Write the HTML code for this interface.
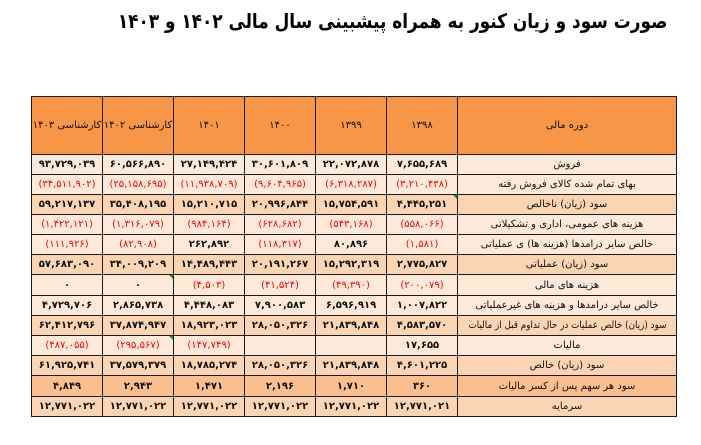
<!DOCTYPE html>
<html><head><meta charset="utf-8">
<style>
html,body{margin:0;padding:0;background:#fff;}
body{width:701px;height:445px;position:relative;overflow:hidden;font-family:"Liberation Sans","DejaVu Sans",sans-serif;}
.title{position:absolute;right:34px;top:9px;font-size:20px;font-weight:bold;color:#000;direction:rtl;white-space:nowrap;font-family:"DejaVu Sans","Liberation Sans",sans-serif;transform:scaleX(0.845);transform-origin:right center;}
.row{position:absolute;left:31px;width:646px;box-sizing:border-box;border-top:1px solid #1a1a1a;border-right:1px solid #1a1a1a;display:flex;direction:rtl;}
.row.last{border-bottom:1px solid #1a1a1a;}
.c{box-sizing:border-box;border-left:1px solid #1a1a1a;width:71px;height:100%;display:flex;align-items:center;justify-content:center;font-size:10px;font-weight:bold;color:#111;white-space:nowrap;font-family:"DejaVu Sans","Liberation Sans",sans-serif;position:relative;}
.c.l{width:219px;font-weight:normal;font-size:10px;}
.h .c{font-weight:normal;font-size:10px;}
.r{color:#ff0000;font-weight:normal;}
.h{background:#F79646;}
.a{background:#FDE9D9;}
.b{background:#FBD4B4;}
.e{background:#FABF8F;}
.g{position:absolute;top:0;right:0;width:0;height:0;border-top:4px solid #1f8f1f;border-left:4px solid transparent;}
.sq{display:inline-block;transform:scaleX(0.88);}
</style></head><body>
<div class="title">صورت سود و زیان کنور به همراه پیشبینی سال مالی ۱۴۰۲ و ۱۴۰۳</div>

<div class="row h" style="top:96px;height:58px;">
<div class="c l">دوره مالی</div><div class="c">۱۳۹۸</div><div class="c">۱۳۹۹</div><div class="c">۱۴۰۰</div><div class="c">۱۴۰۱</div><div class="c">کارشناسی ۱۴۰۲</div><div class="c">کارشناسی ۱۴۰۳</div>
</div>

<div class="row a" style="top:154px;height:20px;">
<div class="c l">فروش</div><div class="c">۷,۶۵۵,۶۸۹</div><div class="c">۲۲,۰۷۲,۸۷۸</div><div class="c">۳۰,۶۰۱,۸۰۹</div><div class="c">۲۷,۱۴۹,۴۲۴</div><div class="c">۶۰,۵۶۶,۸۹۰</div><div class="c">۹۳,۷۲۹,۰۳۹</div>
</div>

<div class="row a" style="top:174px;height:20px;">
<div class="c l">بهای تمام شده کالای فروش رفته</div><div class="c r">(۳,۲۱۰,۴۳۸)</div><div class="c r">(۶,۳۱۸,۲۸۷)</div><div class="c r">(۹,۶۰۴,۹۶۵)</div><div class="c r">(۱۱,۹۳۸,۷۰۹)</div><div class="c r">(۲۵,۱۵۸,۶۹۵)</div><div class="c r">(۳۴,۵۱۱,۹۰۲)</div>
</div>

<div class="row b" style="top:194px;height:20px;">
<div class="c l">سود (زیان) ناخالص</div><div class="c">۴,۴۴۵,۲۵۱<span class="g"></span></div><div class="c">۱۵,۷۵۴,۵۹۱</div><div class="c">۲۰,۹۹۶,۸۴۴</div><div class="c">۱۵,۲۱۰,۷۱۵</div><div class="c">۳۵,۴۰۸,۱۹۵</div><div class="c">۵۹,۲۱۷,۱۳۷</div>
</div>

<div class="row a" style="top:214px;height:20px;">
<div class="c l">هزینه های عمومی، اداری و تشکیلاتی</div><div class="c r">(۵۵۸,۰۶۶)</div><div class="c r">(۵۴۳,۱۶۸)</div><div class="c r">(۶۲۸,۶۸۲)</div><div class="c r">(۹۸۴,۱۶۴)</div><div class="c r">(۱,۳۱۶,۰۷۹)</div><div class="c r">(۱,۴۲۲,۱۲۱)</div>
</div>

<div class="row a" style="top:234px;height:20px;">
<div class="c l">خالص سایر درامدها (هزینه ها) ی عملیاتی</div><div class="c r">(۱,۵۸۱)</div><div class="c">۸۰,۸۹۶</div><div class="c r">(۱۱۸,۳۱۷)</div><div class="c">۲۶۲,۸۹۲</div><div class="c r">(۸۲,۹۰۸)</div><div class="c r">(۱۱۱,۹۲۶)</div>
</div>

<div class="row b" style="top:254px;height:20px;">
<div class="c l">سود (زیان) عملیاتی</div><div class="c">۲,۷۷۵,۸۲۷</div><div class="c">۱۵,۲۹۲,۳۱۹</div><div class="c">۲۰,۱۹۱,۲۶۷</div><div class="c">۱۴,۴۸۹,۴۴۳</div><div class="c">۳۴,۰۰۹,۲۰۹</div><div class="c">۵۷,۶۸۳,۰۹۰</div>
</div>

<div class="row a" style="top:274px;height:21px;">
<div class="c l">هزینه های مالی</div><div class="c r">(۲۰۰,۰۷۹)</div><div class="c r">(۴۹,۳۹۰)</div><div class="c r">(۴۱,۵۲۴)</div><div class="c r">(۴,۵۰۳)</div><div class="c">۰<span class="g"></span></div><div class="c">۰</div>
</div>

<div class="row a" style="top:295px;height:20px;">
<div class="c l">خالص سایر درامدها و هزینه های غیرعملیاتی</div><div class="c">۱,۰۰۷,۸۲۲</div><div class="c">۶,۵۹۶,۹۱۹</div><div class="c">۷,۹۰۰,۵۸۳</div><div class="c">۴,۴۴۸,۰۸۳</div><div class="c">۲,۸۶۵,۷۳۸</div><div class="c">۴,۷۲۹,۷۰۶</div>
</div>

<div class="row b" style="top:315px;height:20px;">
<div class="c l"><span class="sq">سود (زیان) خالص عملیات در حال تداوم قبل از مالیات</span></div><div class="c">۴,۵۸۳,۵۷۰</div><div class="c">۲۱,۸۳۹,۸۴۸</div><div class="c">۲۸,۰۵۰,۳۲۶</div><div class="c">۱۸,۹۲۳,۰۲۳</div><div class="c">۳۷,۸۷۴,۹۴۷</div><div class="c">۶۲,۴۱۲,۷۹۶</div>
</div>

<div class="row a" style="top:335px;height:20px;">
<div class="c l">مالیات</div><div class="c">۱۷,۶۵۵</div><div class="c"></div><div class="c"></div><div class="c r">(۱۴۷,۷۴۹)</div><div class="c r">(۲۹۵,۵۶۷)<span class="g"></span></div><div class="c r">(۴۸۷,۰۵۵)</div>
</div>

<div class="row b" style="top:355px;height:20px;">
<div class="c l">سود (زیان) خالص</div><div class="c">۴,۶۰۱,۲۲۵</div><div class="c">۲۱,۸۳۹,۸۴۸</div><div class="c">۲۸,۰۵۰,۳۲۶</div><div class="c">۱۸,۷۸۵,۲۷۴</div><div class="c">۳۷,۵۷۹,۳۷۹</div><div class="c">۶۱,۹۲۵,۷۴۱</div>
</div>

<div class="row e" style="top:375px;height:21px;">
<div class="c l">سود هر سهم پس از کسر مالیات</div><div class="c">۳۶۰</div><div class="c">۱,۷۱۰</div><div class="c">۲,۱۹۶</div><div class="c">۱,۴۷۱</div><div class="c">۲,۹۴۳</div><div class="c">۴,۸۴۹</div>
</div>

<div class="row b last" style="top:396px;height:21px;">
<div class="c l">سرمایه</div><div class="c">۱۲,۷۷۱,۰۲۱</div><div class="c">۱۲,۷۷۱,۰۲۲</div><div class="c">۱۲,۷۷۱,۰۲۲</div><div class="c">۱۲,۷۷۱,۰۲۲</div><div class="c">۱۲,۷۷۱,۰۲۲</div><div class="c">۱۲,۷۷۱,۰۲۲</div>
</div>

</body></html>
